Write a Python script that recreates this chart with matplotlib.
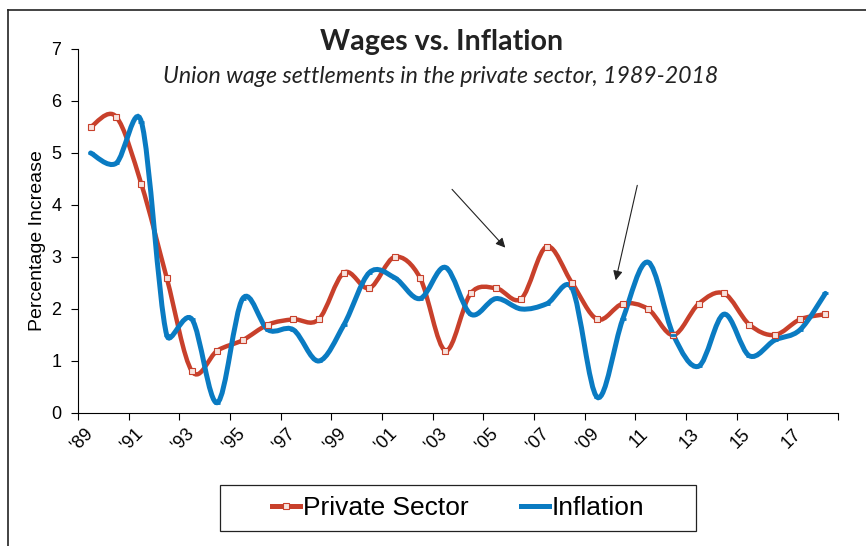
import matplotlib
matplotlib.use('Agg')
import matplotlib.pyplot as plt
from matplotlib.path import Path
from matplotlib.patches import PathPatch, Rectangle
from matplotlib.lines import Line2D
import numpy as np

years = list(range(1989, 2019))
tick_labels = ["'89", "'91", "'93", "'95", "'97", "'99", "'01", "'03", "'05", "'07", "'09", "11", "13", "15", "17"]
private_sector = [5.5, 5.7, 4.4, 2.6, 0.8, 1.2, 1.4, 1.7, 1.8, 1.8,
                  2.7, 2.4, 3.0, 2.6, 1.2, 2.3, 2.4, 2.2, 3.2, 2.5,
                  1.8, 2.1, 2.0, 1.5, 2.1, 2.3, 1.7, 1.5, 1.8, 1.9]
inflation = [5.0, 4.8, 5.6, 1.5, 1.8, 0.2, 2.2, 1.6, 1.6, 1.0,
             1.7, 2.7, 2.6, 2.2, 2.8, 1.9, 2.2, 2.0, 2.1, 2.4,
             0.3, 1.8, 2.9, 1.5, 0.9, 1.9, 1.1, 1.4, 1.6, 2.3]

red = '#C8402B'
blue = '#0A7BC2'


def smooth_path(x, y, sx=25.3, sy=52.0):
    # excel style smoothing: catmull-rom handles (1/6), capped at half the segment length
    pts = np.column_stack([x, y]).astype(float)
    n = len(pts)
    scale = np.array([sx, sy])
    ext = np.vstack([pts[0], pts, pts[-1]])

    def dist(a, b):
        return np.hypot(*((b - a) * scale))

    verts = [pts[0]]
    codes = [Path.MOVETO]
    for i in range(n - 1):
        p0, p1, p2, p3 = ext[i], ext[i + 1], ext[i + 2], ext[i + 3]
        d12 = dist(p1, p2)
        d02 = dist(p0, p2)
        d13 = dist(p1, p3)
        f0 = 1 / 6 if d02 / 6 < d12 / 2 else d12 / d02 / 2
        f1 = 1 / 6 if d13 / 6 < d12 / 2 else d12 / d13 / 2
        verts += [p1 + f0 * (p2 - p0), p2 - f1 * (p3 - p1), p2]
        codes += [Path.CURVE4] * 3
    return Path(verts, codes)


fig = plt.figure(figsize=(8.66, 5.46), dpi=100)
ax = fig.add_axes([0.0901, 0.2436, 0.8776, 0.6667])

x = np.arange(len(years))
ax.add_patch(PathPatch(smooth_path(x, private_sector), fill=False, edgecolor=red, lw=3.2, capstyle='round', zorder=3))
ax.add_patch(PathPatch(smooth_path(x, inflation), fill=False, edgecolor=blue, lw=3.6, capstyle='round', zorder=4))
ax.plot(x, private_sector, ls='none', marker='s', ms=4, mfc='#f7e3de', mec=red, mew=0.8, zorder=5)
ax.plot(x, inflation, ls='none', marker='_', ms=5, mec=blue, mew=2, zorder=6)

ax.set_xlim(-0.5, len(years) - 0.5)
ax.set_ylim(0, 7)
ax.set_yticks(range(0, 8))
# labels sit a little left of the category centre, as in the original
ax.set_xticks(x[::2] - 0.35)
ax.set_xticklabels(tick_labels, rotation=45, ha='center', va='top', fontsize=13, family='Liberation Sans')
ax.set_xticks(np.arange(-0.5, len(years), 2), minor=True)
ax.tick_params(axis='x', which='major', length=0, pad=9)
ax.tick_params(axis='x', which='minor', length=5, width=0.8, direction='out')
ax.tick_params(axis='y', length=5, width=0.8, direction='out', labelsize=13, pad=7)
for lab in ax.get_yticklabels():
    lab.set_family('Liberation Sans')
for s in ['top', 'right']:
    ax.spines[s].set_visible(False)
for s in ['left', 'bottom']:
    ax.spines[s].set_linewidth(0.8)
ax.set_ylabel('Percentage Increase', fontsize=14, family='Liberation Sans', labelpad=4)
ax.yaxis.label.set_y(0.475)

fig.text(0.510, 0.923, 'Wages vs. Inflation', ha='center', va='center', fontsize=20.6,
         fontweight='bold', family='Lato', color='#222222')
fig.text(0.509, 0.859, 'Union wage settlements in the private sector, 1989-2018', ha='center',
         va='center', fontsize=16.7, style='italic', family='Lato', color='#222222')

ax.annotate('', xy=(16.44, 3.14), xytext=(14.19, 4.34),
            arrowprops=dict(arrowstyle='-|>', color='#222222', lw=0.8, mutation_scale=14))
ax.annotate('', xy=(20.7, 2.5), xytext=(21.6, 4.43),
            arrowprops=dict(arrowstyle='-|>', color='#222222', lw=0.8, mutation_scale=14))

handles = [Line2D([], [], color=red, lw=3.6, marker='s', ms=4, mfc='#f7e3de', mec=red, mew=0.8),
           Line2D([], [], color=blue, lw=3.6, marker='_', ms=5, mec=blue, mew=2)]
fig.legend(handles, ['Private Sector', 'Inflation'], loc='center', bbox_to_anchor=(0.5295, 0.0696),
           ncol=2, frameon=False, handlelength=1.06, handletextpad=0.1, columnspacing=2.0,
           prop={'family': 'Liberation Sans', 'size': 19})
fig.add_artist(Rectangle((220 / 866, 1 - 531 / 546), 476 / 866, 46 / 546, transform=fig.transFigure,
                         fill=False, edgecolor='#222222', lw=0.9))

fig.add_artist(Line2D([8 / 866, 8 / 866], [0, 1 - 10 / 546], color='#222222', lw=1.2))
fig.add_artist(Line2D([8 / 866, 1], [1 - 10 / 546, 1 - 10 / 546], color='#222222', lw=1.2))

fig.savefig('out.png', dpi=100)
